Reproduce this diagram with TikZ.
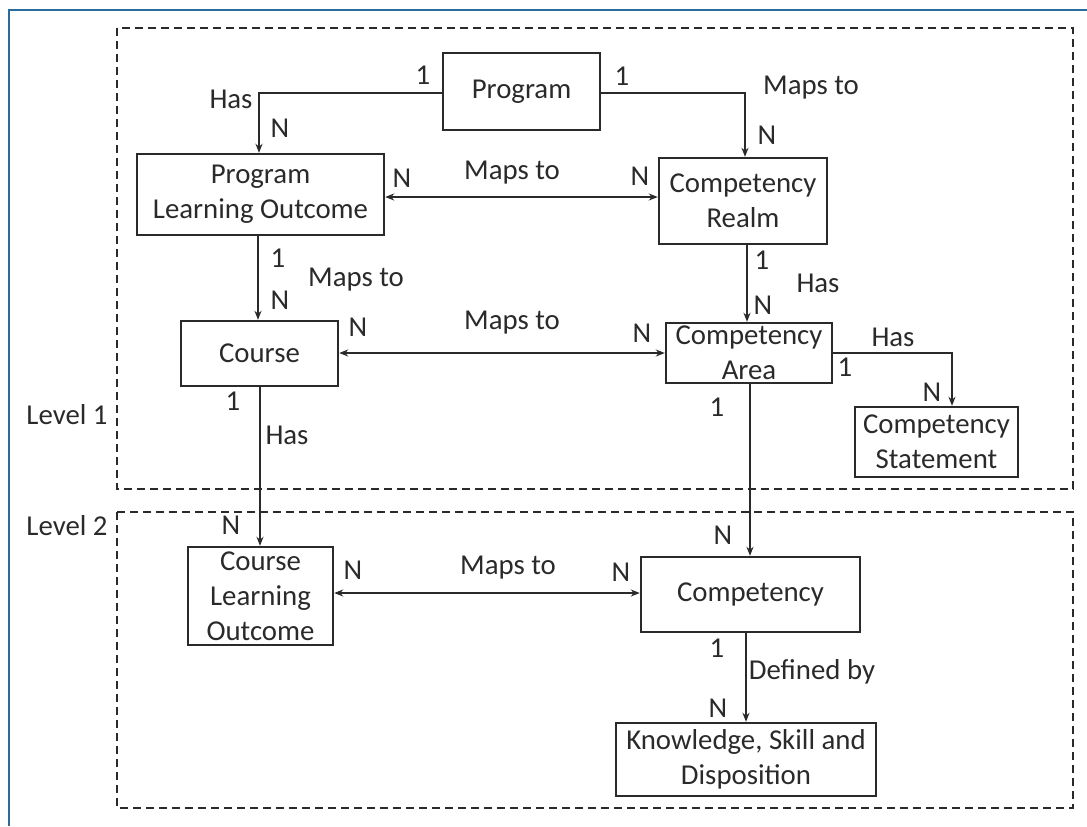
\documentclass[tikz,border=0pt]{standalone}
\usepackage{fontspec}
\setmainfont{Carlito}
\usetikzlibrary{arrows.meta}
\definecolor{ink}{HTML}{2A2A2A}
\definecolor{frameblue}{HTML}{2B6C9E}
\begin{document}
\begin{tikzpicture}[x=0.5pt,y=-0.5pt,
  every node/.style={font=\fontsize{14.4pt}{17.5pt}\selectfont, text=ink},
  box/.style={draw=ink, line width=1.2pt, inner sep=0pt, align=center},
  lbl/.style={inner sep=0pt},
  conn/.style={draw=ink, line width=1.1pt, -{Stealth[length=4.5pt,width=3.5pt]}},
  biconn/.style={draw=ink, line width=1.1pt, {Stealth[length=4.5pt,width=3.5pt]}-{Stealth[length=4.5pt,width=3.5pt]}},
  levelbox/.style={draw=ink, line width=1.2pt, dash pattern=on 4pt off 2.5pt}
]
\useasboundingbox (0,0) rectangle (1087,826);
% outer frame (partly cropped)
\draw[frameblue, line width=1pt] (9,826) -- (9,10) -- (1087,10);
% level boxes
\draw[levelbox] (117,28) rectangle (1073,489);
\draw[levelbox] (117,512) rectangle (1073,808);
\node[lbl] (lv1) at (67,415) {Level 1};
\node[lbl] (lv2) at (67,526) {Level 2};
% entity boxes
\node[box, minimum width=78.5pt, minimum height=38.5pt] (prog) at (521.5,91.5) {Program};
\node[box, minimum width=123.5pt, minimum height=40.5pt] (plo) at (260.5,194.5) {Program\\Learning Outcome};
\node[box, minimum width=84pt, minimum height=43pt] (cr) at (743,201) {Competency\\Realm};
\node[box, minimum width=78.5pt, minimum height=32.5pt] (course) at (259.5,353.5) {Course};
\node[box, minimum width=83pt, minimum height=30pt] (ca) at (749,353) {Competency\\Area};
\node[box, minimum width=81.5pt, minimum height=35pt] (cs) at (936.5,442) {Competency\\Statement};
\node[box, minimum width=72.5pt, minimum height=49pt] (clo) at (260.5,596) {Course\\Learning\\Outcome};
\node[box, minimum width=109.5pt, minimum height=37.5pt] (comp) at (750.5,594.5) {Competency};
\node[box, minimum width=130pt, minimum height=36.5pt] (ksd) at (746,759.5) {Knowledge, Skill and\\Disposition};
% helper coordinates
\coordinate (c1) at (259,93);
\coordinate (c2) at (745,93);
\coordinate (c3) at (952,353);
% connectors
\draw[conn] (prog.west |- c1) -- (c1) -- (plo.north -| c1);
\draw[conn] (prog.east |- c2) -- (c2) -- (cr.north -| c2);
\draw[biconn] (plo.east |- 0,197) -- (cr.west |- 0,197);
\draw[conn] (plo.south -| 258,0) -- (course.north -| 258,0);
\draw[conn] (cr.south -| 747,0) -- (ca.north -| 747,0);
\draw[biconn] (course.east |- 0,353) -- (ca.west |- 0,353);
\draw[conn] (ca.east |- c3) -- (c3) -- (cs.north -| c3);
\draw[conn] (ca.south -| 750,0) -- (comp.north -| 750,0);
\draw[conn] (course.south -| 260,0) -- (clo.north -| 260,0);
\draw[biconn] (clo.east |- 0,593) -- (comp.west |- 0,593);
\draw[conn] (comp.south -| 746,0) -- (ksd.north -| 746,0);
% labels
\node[lbl] at (423,75) {1};
\node[lbl] at (231,99) {Has};
\node[lbl] at (280,128) {N};
\node[lbl] at (622,76) {1};
\node[lbl] at (811,88) {Maps to};
\node[lbl] at (767,135) {N};
\node[lbl] at (402,178) {N};
\node[lbl] at (512,173) {Maps to};
\node[lbl] at (640,176) {N};
\node[lbl] at (278,258) {1};
\node[lbl] at (356,280) {Maps to};
\node[lbl] at (280,300) {N};
\node[lbl] at (762,260) {1};
\node[lbl] at (818,283) {Has};
\node[lbl] at (763,305) {N};
\node[lbl] at (358,327) {N};
\node[lbl] at (512,323) {Maps to};
\node[lbl] at (642,333) {N};
\node[lbl] at (893,337) {Has};
\node[lbl] at (845,367) {1};
\node[lbl] at (932,392) {N};
\node[lbl] at (717,407) {1};
\node[lbl] at (723,535) {N};
\node[lbl] at (233,401) {1};
\node[lbl] at (287,435) {Has};
\node[lbl] at (231,525) {N};
\node[lbl] at (353,570) {N};
\node[lbl] at (508,568) {Maps to};
\node[lbl] at (621,572) {N};
\node[lbl] at (717,648) {1};
\node[lbl] at (812,672) {Defined by};
\node[lbl] at (718,708) {N};
\end{tikzpicture}
\end{document}
